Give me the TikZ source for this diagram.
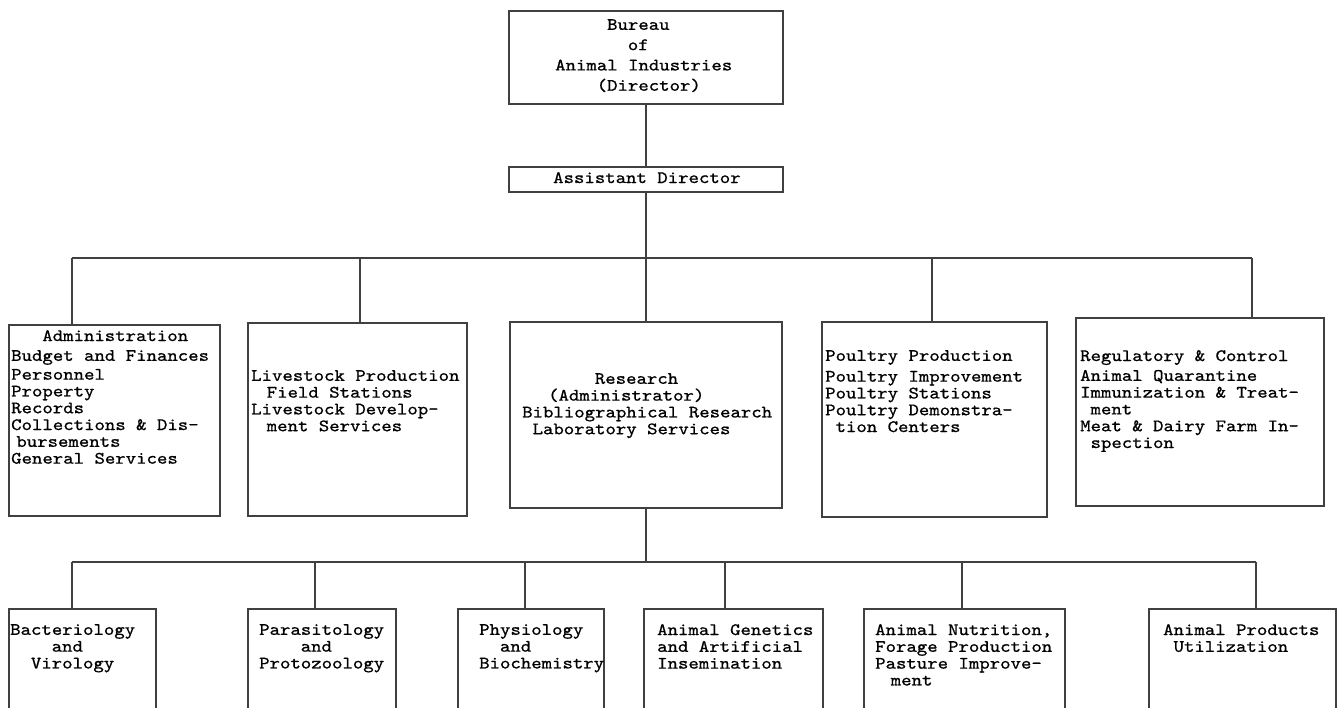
\documentclass[tikz,border=0pt]{standalone}
\usepackage{fontspec}
\newfontfamily\tw{lmmono10-regular}[Extension=.otf, FakeStretch=1.14, FakeBold=0.8]
\newcommand\ind[1]{\hspace*{#1\dimexpr 10.38pt\relax}}
\newcommand\bx[5]{\node[box, minimum width={#4pt-#2pt}, minimum height={#5pt-#3pt}] (#1) at (#2,#3) {};}
\begin{document}
\begin{tikzpicture}[x=1pt,y=-1pt,
  box/.style={draw=black!75, line width=1.7pt, inner sep=0pt, anchor=north west},
  conn/.style={draw=black!75, line width=1.7pt},
  txt/.style={anchor=north west, inner sep=0pt, align=left, font=\tw\fontsize{17.4}{16.8}\selectfont}]
\clip (0,0) rectangle (1337,708);
\fill[white] (0,0) rectangle (1337,708);
% boxes
\bx{top}{508}{10}{782}{103}
\bx{asst}{508}{166}{782}{191}
\bx{a1}{8}{324}{219}{515}
\bx{a2}{247}{322}{466}{515}
\bx{a3}{509}{321}{781}{507}
\bx{a4}{821}{321}{1046}{516}
\bx{a5}{1075}{317}{1323}{505}
\bx{b1}{8}{608}{155}{730}
\bx{b2}{247}{608}{395}{730}
\bx{b3}{457}{608}{603}{730}
\bx{b4}{643}{608}{822}{730}
\bx{b5}{863}{608}{1064}{730}
\bx{b6}{1148}{608}{1335}{730}
% bus coordinates
\coordinate (u1) at (72,258);
\coordinate (u2) at (360,258);
\coordinate (u4) at (932,258);
\coordinate (u5) at (1252,258);
\coordinate (v1) at (72,562);
\coordinate (v2) at (315,562);
\coordinate (v3) at (525,562);
\coordinate (v4) at (725,562);
\coordinate (v5) at (962,562);
\coordinate (v6) at (1256,562);
% connectors
\draw[conn] (top.south) -- (asst.north);
\draw[conn] (asst.south) -- (asst.south |- u1);
\draw[conn] (u1) -- (u5);
\draw[conn] (u1) -- (u1 |- a1.north);
\draw[conn] (u2) -- (u2 |- a2.north);
\draw[conn] (a3.north |- u1) -- (a3.north);
\draw[conn] (u4) -- (u4 |- a4.north);
\draw[conn] (u5) -- (u5 |- a5.north);
\draw[conn] (a3.south) -- (a3.south |- v1);
\draw[conn] (v1) -- (v6);
\draw[conn] (v1) -- (v1 |- b1.north);
\draw[conn] (v2) -- (v2 |- b2.north);
\draw[conn] (v3) -- (v3 |- b3.north);
\draw[conn] (v4) -- (v4 |- b4.north);
\draw[conn] (v5) -- (v5 |- b5.north);
\draw[conn] (v6) -- (v6 |- b6.north);
% texts
\node[txt, font=\tw\fontsize{17.4}{20.3}\selectfont] (ttop) at (555,19) {\ind{5}Bureau\\ \ind{7}of\\ Animal Industries\\ \ind{4}(Director)};
\node[txt] (tasst) at (553,172) {Assistant Director};
\node[txt] (ta1) at (11,330) {\ind{3}Administration\\[3pt] Budget and Finances\\[2pt] Personnel\\ Property\\ Records\\ Collections \& Dis-\\ \ind{0.5}bursements\\ General Services};
\node[txt] (ta2) at (251,370) {Livestock Production\\ \ind{1.5}Field Stations\\ Livestock Develop-\\ \ind{1.5}ment Services};
\node[txt] (ta3) at (522,373) {\ind{7}Research\\ \ind{2.5}(Administrator)\\ Bibliographical Research\\ \ind{1}Laboratory Services};
\node[txt] (ta4) at (825,350) {Poultry Production\\[4pt] Poultry Improvement\\ Poultry Stations\\ Poultry Demonstra-\\ \ind{1}tion Centers};
\node[txt] (ta5) at (1080,350) {Regulatory \& Control\\[3pt] Animal Quarantine\\ Immunization \& Treat-\\ \ind{1}ment\\ Meat \& Dairy Farm In-\\ \ind{1}spection};
\node[txt] (tb1) at (10,624) {Bacteriology\\ \ind{4}and\\ \ind{2}Virology};
\node[txt] (tb2) at (259,624) {Parasitology\\ \ind{4}and\\ Protozoology};
\node[txt] (tb3) at (479,624) {Physiology\\ \ind{2}and\\ Biochemistry};
\node[txt] (tb4) at (657,624) {Animal Genetics\\ and Artificial\\ Insemination};
\node[txt] (tb5) at (875,624) {Animal Nutrition,\\ Forage Production\\ Pasture Improve-\\ \ind{1.5}ment};
\node[txt] (tb6) at (1163,624) {Animal Products\\ \ind{1}Utilization};
\end{tikzpicture}
\end{document}
